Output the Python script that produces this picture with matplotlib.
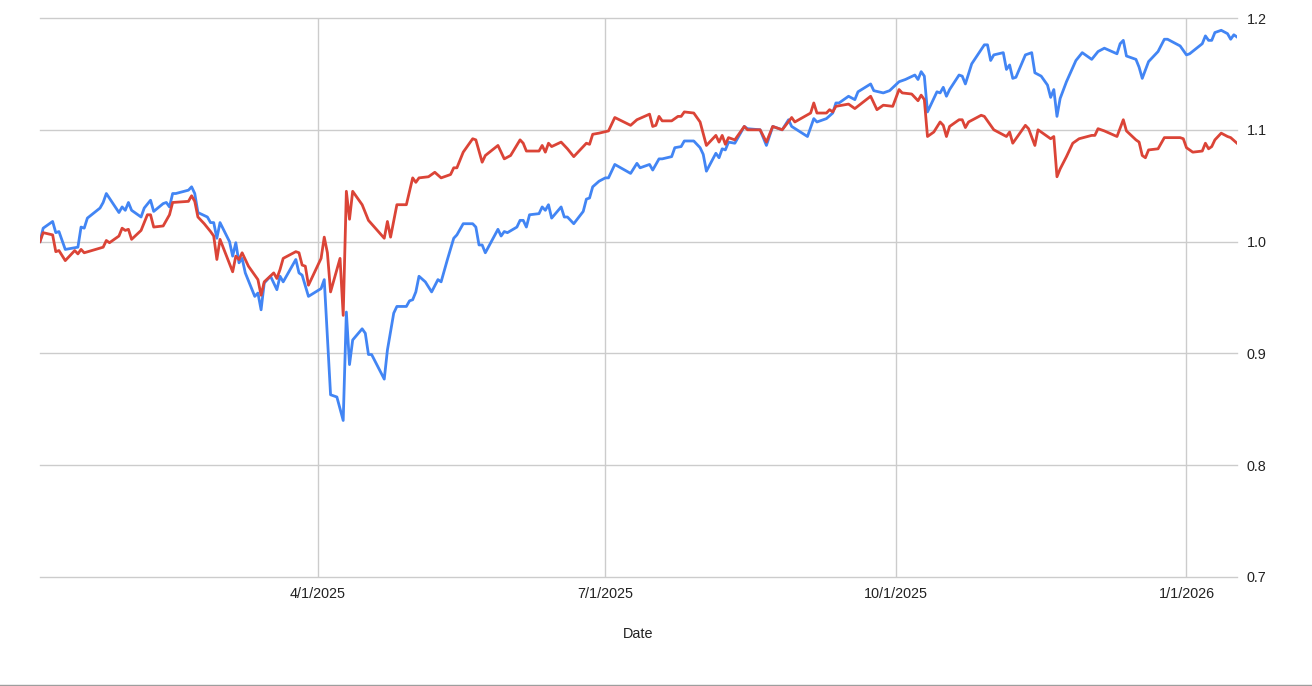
import matplotlib
matplotlib.use("Agg")
import matplotlib.pyplot as plt
from matplotlib.lines import Line2D
import numpy as np

# ---- data: day offsets from the base date, and the two series ----
base_date = np.datetime64("2025-01-02")

blue_days = [1, 2, 5, 6, 7, 9, 13, 14, 15, 16, 20, 21, 22, 26, 27, 28, 29, 30, 33, 34,
             36, 37, 40, 41, 42, 43, 44, 48, 49, 50, 51, 54, 55, 56, 57, 58, 61, 62, 63, 64,
             65, 66, 69, 70, 71, 72, 74, 76, 77, 78, 82, 83, 84, 86, 90, 91, 93, 95, 97, 98,
             99, 100, 103, 104, 105, 106, 110, 111, 113, 114, 117, 118, 119, 120, 121, 123, 125,
             127, 128, 130, 132, 133, 135, 138, 139, 140, 141, 142, 146, 147, 148, 149, 152,
             153, 154, 155, 156, 159, 160, 161, 162, 163, 166, 167, 168, 170, 173, 174, 175,
             176, 178, 180, 181, 183, 188, 190, 191, 194, 195, 197, 198, 201, 202, 204, 205,
             208, 210, 211, 212, 215, 216, 217, 218, 219, 221, 224, 225, 229, 231, 233, 236,
             238, 239, 244, 246, 247, 250, 252, 253, 254, 257, 259, 260, 264, 265, 268, 270,
             273, 275, 278, 279, 280, 281, 282, 285, 286, 287, 288, 289, 292, 293, 294, 296,
             300, 301, 302, 303, 306, 307, 308, 309, 310, 313, 315, 316, 318, 320, 321, 322,
             323, 324, 326, 329, 331, 334, 336, 338, 342, 343, 344, 345, 348, 349, 350, 352,
             355, 357, 358, 362, 364, 365, 369, 370, 371, 372, 373, 375, 377, 378, 379, 380]
blue_values = [1.000, 1.012, 1.018, 1.008, 1.009, 0.993, 0.995, 1.013, 1.012, 1.021, 1.030,
               1.035, 1.043, 1.026, 1.031, 1.028, 1.035, 1.028, 1.022, 1.030, 1.037, 1.027,
               1.034, 1.035, 1.031, 1.043, 1.043, 1.046, 1.049, 1.043, 1.026, 1.022, 1.017,
               1.017, 1.003, 1.017, 1.000, 0.987, 0.999, 0.981, 0.985, 0.972, 0.951, 0.954,
               0.939, 0.963, 0.969, 0.957, 0.969, 0.964, 0.984, 0.972, 0.970, 0.951, 0.958,
               0.966, 0.863, 0.861, 0.840, 0.937, 0.890, 0.912, 0.922, 0.918, 0.899, 0.899,
               0.877, 0.903, 0.936, 0.942, 0.942, 0.947, 0.948, 0.955, 0.969, 0.964, 0.955, 0.966,
               0.964, 0.984, 1.003, 1.006, 1.016, 1.016, 1.013, 0.997, 0.997, 0.990, 1.011,
               1.005, 1.009, 1.008, 1.013, 1.019, 1.019, 1.013, 1.024, 1.025, 1.031, 1.028,
               1.033, 1.021, 1.031, 1.022, 1.022, 1.016, 1.027, 1.038, 1.039, 1.049, 1.054,
               1.057, 1.057, 1.069, 1.061, 1.070, 1.066, 1.069, 1.064, 1.074, 1.074, 1.076,
               1.084, 1.085, 1.090, 1.090, 1.084, 1.078, 1.063, 1.079, 1.075, 1.083, 1.082,
               1.089, 1.088, 1.103, 1.101, 1.100, 1.086, 1.103, 1.100, 1.109, 1.103, 1.094,
               1.110, 1.107, 1.110, 1.115, 1.124, 1.124, 1.130, 1.127, 1.134, 1.141, 1.135,
               1.133, 1.135, 1.143, 1.145, 1.149, 1.145, 1.152, 1.148, 1.116, 1.134, 1.133,
               1.138, 1.130, 1.136, 1.149, 1.148, 1.141, 1.159, 1.176, 1.176, 1.162, 1.167,
               1.169, 1.154, 1.158, 1.146, 1.147, 1.167, 1.169, 1.151, 1.148, 1.140, 1.129,
               1.136, 1.112, 1.128, 1.143, 1.162, 1.169, 1.163, 1.170, 1.173, 1.168, 1.177,
               1.180, 1.166, 1.163, 1.156, 1.146, 1.161, 1.170, 1.181, 1.181, 1.175, 1.167,
               1.168, 1.177, 1.184, 1.180, 1.180, 1.187, 1.189, 1.186, 1.181, 1.185, 1.183]

red_days = [1, 2, 5, 6, 7, 9, 12, 13, 14, 15, 21, 22, 23, 26, 27, 28, 29, 30, 33, 35,
            36, 37, 40, 42, 43, 48, 49, 50, 51, 53, 55, 56, 57, 58, 62, 63, 64, 65, 67, 70,
            71, 72, 75, 76, 77, 78, 82, 83, 84, 85, 86, 90, 91, 92, 93, 96, 97, 98, 99, 100,
            103, 105, 110, 111, 112, 114, 117, 119, 120, 121, 124, 126, 128, 131, 132, 133,
            135, 138, 139, 141, 142, 146, 148, 150, 153, 154, 155, 159, 160, 161, 162, 163,
            166, 168, 170, 174, 175, 176, 178, 181, 183, 188, 190, 194, 195, 196, 197, 198,
            201, 203, 204, 205, 208, 210, 212, 215, 216, 217, 218, 219, 221, 224, 225, 229,
            231, 233, 236, 239, 240, 245, 246, 247, 250, 251, 252, 253, 257, 259, 264, 266,
            268, 271, 273, 274, 277, 279, 280, 281, 282, 284, 286, 287, 288, 289, 292, 293,
            294, 295, 299, 300, 303, 307, 308, 309, 310, 313, 314, 316, 317, 321, 322, 323,
            324, 326, 328, 330, 334, 335, 336, 338, 342, 344, 345, 348, 349, 350, 351, 352,
            355, 357, 362, 363, 364, 366, 369, 370, 371, 372, 373, 375, 377, 378, 380]
red_values = [1.000, 1.008, 1.006, 0.991, 0.992, 0.983, 0.992, 0.989, 0.993, 0.990, 0.995,
              1.001, 0.999, 1.005, 1.012, 1.010, 1.011, 1.002, 1.010, 1.024, 1.024, 1.013,
              1.014, 1.024, 1.035, 1.036, 1.041, 1.036, 1.022, 1.016, 1.009, 1.005, 0.984,
              1.002, 0.973, 0.987, 0.984, 0.990, 0.978, 0.966, 0.952, 0.964, 0.972, 0.967,
              0.975, 0.985, 0.991, 0.990, 0.979, 0.978, 0.961, 0.985, 1.004, 0.990, 0.955,
              0.985, 0.934, 1.045, 1.020, 1.045, 1.033, 1.019, 1.003, 1.018, 1.004, 1.033,
              1.033, 1.057, 1.053, 1.057, 1.058, 1.062, 1.057, 1.060, 1.066, 1.066, 1.080,
              1.092, 1.091, 1.071, 1.077, 1.086, 1.074, 1.077, 1.091, 1.088, 1.081, 1.081,
              1.086, 1.080, 1.088, 1.085, 1.089, 1.083, 1.076, 1.088, 1.087, 1.096, 1.097,
              1.099, 1.111, 1.104, 1.109, 1.114, 1.103, 1.104, 1.112, 1.108, 1.108, 1.112,
              1.112, 1.116, 1.115, 1.107, 1.086, 1.095, 1.089, 1.095, 1.087, 1.093, 1.091,
              1.103, 1.100, 1.100, 1.089, 1.103, 1.100, 1.111, 1.107, 1.115, 1.124, 1.115,
              1.115, 1.118, 1.116, 1.121, 1.123, 1.119, 1.130, 1.118, 1.122, 1.121, 1.136,
              1.133, 1.132, 1.126, 1.131, 1.127, 1.094, 1.098, 1.107, 1.104, 1.094, 1.103,
              1.109, 1.109, 1.102, 1.107, 1.113, 1.112, 1.100, 1.094, 1.098, 1.088, 1.092,
              1.104, 1.101, 1.086, 1.100, 1.092, 1.094, 1.058, 1.065, 1.076, 1.088, 1.092,
              1.095, 1.095, 1.101, 1.099, 1.094, 1.109, 1.099, 1.091, 1.089, 1.077, 1.075,
              1.082, 1.083, 1.093, 1.093, 1.092, 1.084, 1.080, 1.081, 1.088, 1.083, 1.085,
              1.091, 1.097, 1.094, 1.093, 1.088]

x_tick_dates = ["2025-04-01", "2025-07-01", "2025-10-01", "2026-01-01"]
x_tick_labels = ["4/1/2025", "7/1/2025", "10/1/2025", "1/1/2026"]
y_ticks = [0.7, 0.8, 0.9, 1.0, 1.1, 1.2]
y_tick_labels = ["0.7", "0.8", "0.9", "1.0", "1.1", "1.2"]
x_label = "Date"

# ---- figure ----
plt.rcParams["font.family"] = ["Liberation Sans", "DejaVu Sans"]
W, H = 1312, 686
fig = plt.figure(figsize=(W / 100, H / 100), dpi=100)
ax = fig.add_axes([40 / W, 109 / H, 1197 / W, 559 / H])

blue_dates = base_date + np.array(blue_days).astype("timedelta64[D]")
red_dates = base_date + np.array(red_days).astype("timedelta64[D]")

ax.plot(blue_dates, blue_values, color="#4285F4", lw=2.0, solid_joinstyle="round", zorder=3)
ax.plot(red_dates, red_values, color="#DB4437", lw=2.0, solid_joinstyle="round", zorder=4)

ax.set_ylim(0.7, 1.2)
ax.set_xlim(min(blue_dates[0], red_dates[0]), max(blue_dates[-1], red_dates[-1]))
ax.set_yticks(y_ticks)
ax.set_yticklabels(y_tick_labels)
ax.yaxis.tick_right()
ax.set_xticks(np.array(x_tick_dates, dtype="datetime64[D]"))
ax.set_xticklabels(x_tick_labels)

ax.grid(True, color="#cccccc", lw=1.0)
ax.set_axisbelow(True)
for gl in ax.get_ygridlines():
    gl.set_clip_on(False)
for s in ax.spines.values():
    s.set_visible(False)
ax.tick_params(axis="both", length=0, labelsize=10.4, colors="#222222")
ax.tick_params(axis="x", pad=7)
ax.tick_params(axis="y", pad=7)
ax.set_xlabel(x_label, fontsize=10.4, color="#222222", labelpad=19)

fig.add_artist(Line2D([0, 1], [1.5 / H, 1.5 / H], color="#9e9e9e", lw=1.0))

fig.savefig("out.png", dpi=100, facecolor="white")
